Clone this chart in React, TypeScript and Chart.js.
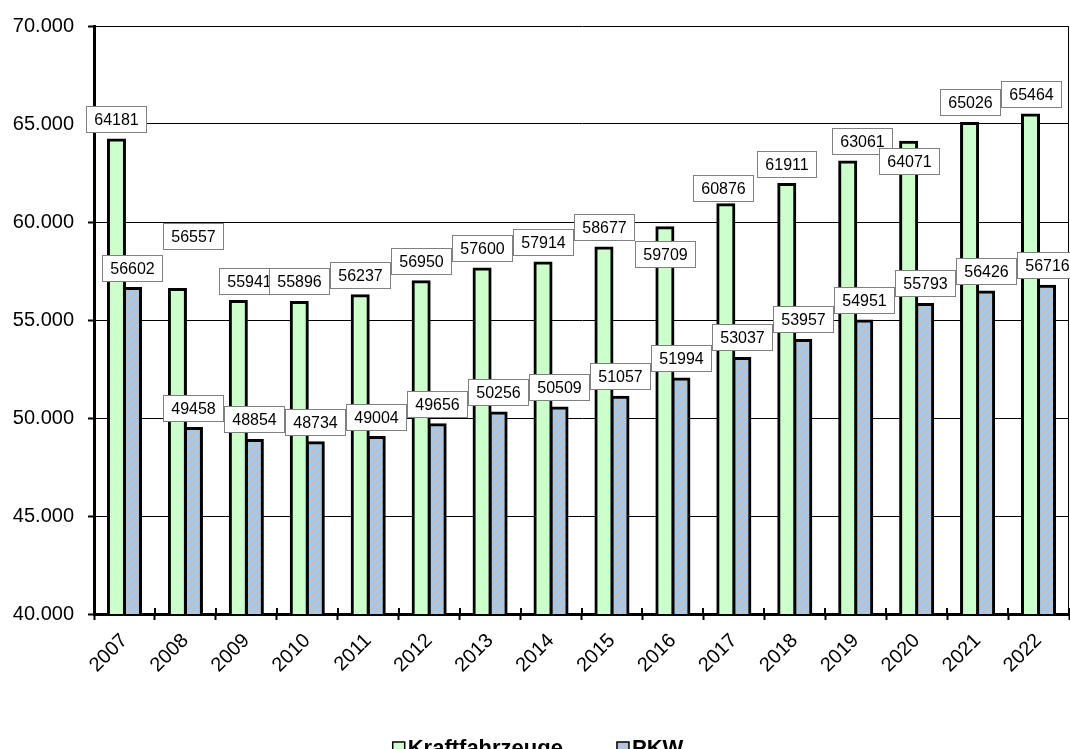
import React, { useEffect, useRef } from "react";
import { Chart, registerables } from "chart.js";

Chart.register(...registerables);

const years = ["2007", "2008", "2009", "2010", "2011", "2012", "2013", "2014", "2015", "2016", "2017", "2018", "2019", "2020", "2021", "2022"];
const kraftfahrzeuge = [64181, 56557, 55941, 55896, 56237, 56950, 57600, 57914, 58677, 59709, 60876, 61911, 63061, 64071, 65026, 65464];
const pkw = [56602, 49458, 48854, 48734, 49004, 49656, 50256, 50509, 51057, 51994, 53037, 53957, 54951, 55793, 56426, 56716];
const seriesNames = ["Kraftfahrzeuge", "PKW"];
const yMin = 40000;
const yMax = 70000;
const yStep = 5000;

// label box nudges (px) relative to default "above bar" placement
const kfzLabelNudge: [number, number][] = [
  [0, 0], [15.6, -32], [10.3, 0], [0, 0], [0, 0], [0, 0], [0, 0], [0, 0],
  [0, 0], [0, 47.4], [-2.6, 4.6], [0, 0], [13.8, 0], [0, 39.7], [0, 0], [0, 0],
];
const pkwLabelNudge: [number, number][] = pkw.map(() => [0, 0]);

const FONT = '"Liberation Sans", Arial, sans-serif';
const GREEN = "#CCFFCC";

function fmt(v: number): string {
  return String(v).replace(/\B(?=(\d{3})+(?!\d))/g, ".");
}

function makePattern(): CanvasPattern | string {
  const pc = document.createElement("canvas");
  pc.width = 8;
  pc.height = 8;
  const p = pc.getContext("2d");
  if (!p) return "#C0C0C0";
  p.fillStyle = "#C0C0C0";
  p.fillRect(0, 0, 8, 8);
  p.strokeStyle = "#99CCFF";
  p.lineWidth = 2.5;
  p.beginPath();
  p.moveTo(-2, 10);
  p.lineTo(10, -2);
  p.moveTo(-2, 2);
  p.lineTo(2, -2);
  p.moveTo(6, 10);
  p.lineTo(10, 6);
  p.stroke();
  return p.createPattern(pc, "repeat") || "#C0C0C0";
}

export default function App() {
  const ref = useRef<HTMLCanvasElement | null>(null);

  useEffect(() => {
    const canvas = ref.current;
    if (!canvas) return;
    const pattern = makePattern();
    const nudges = [kfzLabelNudge, pkwLabelNudge];

    const borderPlugin = {
      id: "rightBorder",
      beforeDatasetsDraw(chart: any) {
        const { ctx, chartArea } = chart;
        ctx.save();
        ctx.strokeStyle = "#000";
        ctx.lineWidth = 1;
        ctx.beginPath();
        const x = Math.round(chartArea.right) - 0.5;
        ctx.moveTo(x, chartArea.top);
        ctx.lineTo(x, chartArea.bottom);
        ctx.stroke();
        ctx.restore();
      },
      afterDatasetsDraw(chart: any) {
        // tick marks crossing the category axis (inner part)
        const { ctx, chartArea } = chart;
        const xs = chart.scales.x;
        const n = years.length;
        const half = (chartArea.right - chartArea.left) / n / 2;
        ctx.save();
        ctx.strokeStyle = "#000";
        ctx.lineWidth = 2;
        ctx.beginPath();
        for (let i = 0; i <= n; i++) {
          const px = i < n ? xs.getPixelForValue(i) - half : xs.getPixelForValue(n - 1) + half;
          const x = Math.round(px);
          ctx.moveTo(x, chartArea.bottom);
          ctx.lineTo(x, chartArea.bottom - 6);
        }
        ctx.stroke();
        ctx.restore();
      },
    };

    const labelPlugin = {
      id: "valueBoxes",
      afterDraw(chart: any) {
        const ctx = chart.ctx as CanvasRenderingContext2D;
        ctx.save();
        ctx.font = `16px ${FONT}`;
        ctx.textAlign = "center";
        ctx.textBaseline = "middle";
        chart.data.datasets.forEach((ds: any, di: number) => {
          const meta = chart.getDatasetMeta(di);
          meta.data.forEach((bar: any, i: number) => {
            const [dx, dy] = nudges[di][i];
            const text = String(ds.data[i]);
            const w = Math.round(ctx.measureText(text).width + 16);
            const h = 26;
            const cx = bar.x + dx;
            const bottom = bar.y - 8 + dy;
            const x0 = Math.round(cx - w / 2) + 0.5;
            const y0 = Math.round(bottom - h) + 0.5;
            ctx.fillStyle = "#fff";
            ctx.fillRect(x0, y0, w, h);
            ctx.strokeStyle = "#808080";
            ctx.lineWidth = 1;
            ctx.strokeRect(x0, y0, w, h);
            ctx.fillStyle = "#000";
            ctx.fillText(text, x0 + w / 2, y0 + h / 2 + 1);
          });
        });

        // legend
        ctx.font = `bold 22px ${FONT}`;
        ctx.textAlign = "left";
        ctx.textBaseline = "alphabetic";
        const box = 12;
        const gap = 3;
        const itemGap = 54;
        const widths = seriesNames.map((n) => ctx.measureText(n).width);
        const total = widths.reduce((a, b) => a + b + box + gap, 0) + itemGap * (seriesNames.length - 1);
        let x = chart.width / 2 - total / 2 + 3;
        const boxTop = 742;
        const baseline = 755;
        seriesNames.forEach((n, k) => {
          ctx.fillStyle = k === 0 ? GREEN : (pattern as any);
          ctx.fillRect(x, boxTop, box, box);
          ctx.strokeStyle = "#000";
          ctx.lineWidth = 1.5;
          ctx.strokeRect(x, boxTop, box, box);
          ctx.fillStyle = "#000";
          ctx.fillText(n, x + box + gap, baseline);
          x += box + gap + widths[k] + itemGap;
        });
        ctx.restore();
      },
    };

    const chart = new Chart(canvas, {
      type: "bar",
      data: {
        labels: years,
        datasets: [
          {
            label: seriesNames[0],
            data: kraftfahrzeuge,
            backgroundColor: GREEN,
            borderColor: "#000",
            borderWidth: 3,
            inflateAmount: 1.5,
            categoryPercentage: 0.526,
            barPercentage: 1.0,
          } as any,
          {
            label: seriesNames[1],
            data: pkw,
            backgroundColor: pattern as any,
            borderColor: "#000",
            borderWidth: 3,
            inflateAmount: 1.5,
            categoryPercentage: 0.526,
            barPercentage: 1.0,
          } as any,
        ],
      },
      options: {
        responsive: false,
        maintainAspectRatio: false,
        animation: false,
        devicePixelRatio: 1,
        layout: { padding: { top: 24, right: 1, left: 0, bottom: 0 } },
        plugins: {
          legend: { display: false },
          tooltip: { enabled: false },
          title: { display: false },
        },
        scales: {
          x: {
            afterFit(scale: any) {
              scale.height = 135;
            },
            grid: {
              offset: true,
              drawOnChartArea: false,
              drawTicks: true,
              tickLength: 6,
              tickColor: "#000",
              tickWidth: 2,
            },
            border: { display: true, color: "#000", width: 3 },
            ticks: {
              autoSkip: false,
              minRotation: 45,
              maxRotation: 45,
              padding: 9,
              color: "#000",
              font: { family: FONT, size: 20 },
            },
          },
          y: {
            min: yMin,
            max: yMax,
            afterFit(scale: any) {
              scale.width = 94;
            },
            grid: {
              color: "#000",
              lineWidth: 1,
              drawTicks: true,
              tickLength: 6,
              tickColor: "#000",
              tickWidth: 2,
            },
            border: { display: true, color: "#000", width: 3 },
            ticks: {
              stepSize: yStep,
              padding: 14,
              color: "#000",
              font: { family: FONT, size: 20 },
              callback: (v: any) => fmt(Number(v)),
            },
          },
        },
      },
      plugins: [borderPlugin, labelPlugin],
    });

    return () => chart.destroy();
  }, []);

  return (
    <div
      style={{
        position: "fixed",
        left: 0,
        top: 0,
        width: 1070,
        height: 749,
        overflow: "hidden",
        background: "#fff",
      }}
    >
      <canvas ref={ref} width={1070} height={749} style={{ display: "block" }} />
    </div>
  );
}
